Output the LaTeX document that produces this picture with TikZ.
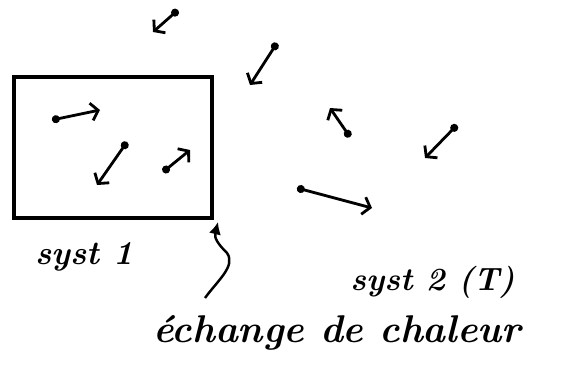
\documentclass[tikz,border=0pt]{standalone}
\usepackage{tikz}
\usetikzlibrary{arrows.meta}

\tikzset{
  particle/.style={line width=1.6pt, line cap=round, {Circle[length=4.5pt]}-{Straight Barb[length=4pt,width=10pt]}},
  hand/.style={font=\bfseries\itshape\fontsize{19}{21}\selectfont, inner sep=0pt}
}

\begin{document}
\begin{tikzpicture}[x=0.02cm, y=-0.02cm]
\useasboundingbox (0,0) rectangle (574,365);
% System 1 (box, left)
\node[draw, line width=2.2pt, minimum width=3.96cm, minimum height=2.82cm, inner sep=0pt] (sys1) at (113,147.5) {};
\draw[particle] (52,120) -- (100,110);
\draw[particle] (127,142) -- (97,185);
\draw[particle] (163,172) -- (190,150);
% System 2 (particles outside)
\draw[particle] (178,10) -- (153,32);
\draw[particle] (277,43) -- (250,85);
\draw[particle] (350,137) -- (330,108);
\draw[particle] (457,125) -- (425,158);
\draw[particle] (297,188) -- (372,208);
% Labels
\node[hand, anchor=base west] (lab1) at (35,264) {syst 1};
\node[hand, anchor=base west, font=\bfseries\itshape\fontsize{18.4}{20}\selectfont] (lab2) at (350,290) {syst 2 (T)};
\node[hand, anchor=base west, font=\bfseries\itshape\fontsize{22}{24}\selectfont] (heat) at (153,342) {échange de chaleur};
% Heat exchange arrow
\coordinate (heatstart) at (205,298);
\coordinate (heatend) at (218,222);
\draw[line width=1.4pt, -{Latex[length=7pt,width=7pt]}] (heatstart) .. controls (218,280) and (236,266) .. (227,253)
  .. controls (218,244) and (214,238) .. (heatend);
\end{tikzpicture}
\end{document}
